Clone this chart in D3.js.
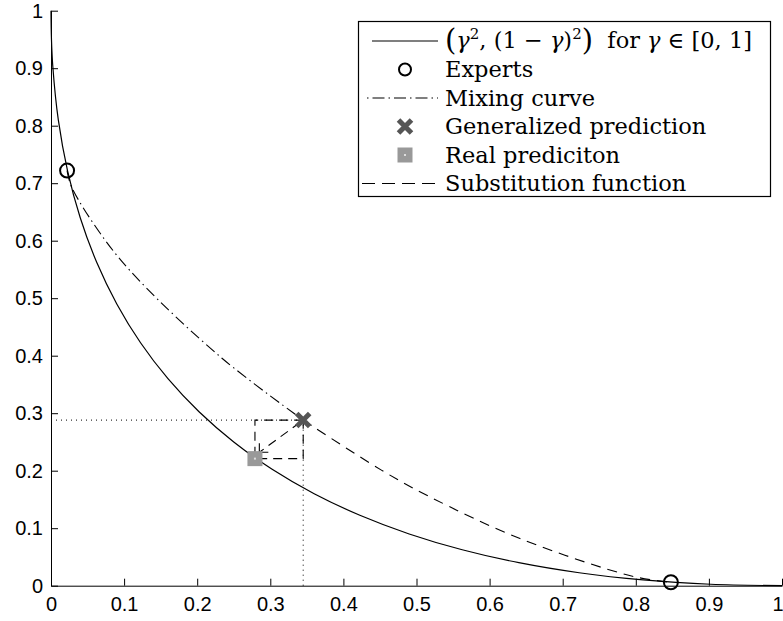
<!DOCTYPE html>
<html><head><meta charset="utf-8">
<script src="https://cdn.jsdelivr.net/npm/d3@7"></script>
<style>body{margin:0;background:#fff}svg{display:block}</style>
</head><body><svg id="c" width="783" height="621"></svg>
<script>
// ---- data ----
const xTicks = [0,0.1,0.2,0.3,0.4,0.5,0.6,0.7,0.8,0.9,1];
const yTicks = [0,0.1,0.2,0.3,0.4,0.5,0.6,0.7,0.8,0.9,1];
const xTickLabels = ["0","0.1","0.2","0.3","0.4","0.5","0.6","0.7","0.8","0.9","1"];
const yTickLabels = ["0","0.1","0.2","0.3","0.4","0.5","0.6","0.7","0.8","0.9","1"];
// curve (gamma^2, (1-gamma)^2)
const curveX = [0,0.000625,0.0025,0.01,0.0225,0.04,0.0625,0.09,0.1225,0.16,0.2025,0.25,0.3025,0.36,0.4225,0.49,0.5625,0.64,0.7225,0.81,0.9025,1];
const curveY = [1,0.950625,0.9025,0.81,0.7225,0.64,0.5625,0.49,0.4225,0.36,0.3025,0.25,0.2025,0.16,0.1225,0.09,0.0625,0.04,0.0225,0.01,0.0025,0];
// mixing curve (dash-dot) from expert 1 to generalized prediction
const mixX = [0.022,0.028,0.074,0.122,0.2335,0.345];
const mixY = [0.722,0.694,0.601,0.529,0.396,0.288];
// substitution (dashed) from generalized prediction to expert 2
const subX = [0.345,0.452,0.5175,0.6416,0.797,0.848];
const subY = [0.288,0.201,0.155,0.082,0.016,0.006];
const expertX = [0.022,0.848];
const expertY = [0.722,0.006];
const genPredX = [0.345], genPredY = [0.288];
const realPredX = [0.279], realPredY = [0.221];
const arrowEndX = [0.285], arrowEndY = [0.232];
const legendLabels = ["Experts","Mixing curve","Generalized prediction","Real prediciton","Substitution function"];

// ---- drawing ----
const svg = d3.select("#c");
const x = d3.scaleLinear().domain([0,1]).range([51,782]);
const y = d3.scaleLinear().domain([0,1]).range([585.7,10.7]);
const line = d3.line().x(d=>x(d[0])).y(d=>y(d[1]));
const smooth = d3.line().x(d=>x(d[0])).y(d=>y(d[1])).curve(d3.curveCatmullRom);
const zip = (a,b)=>a.map((v,i)=>[v,b[i]]);

// axes
const gx = svg.append("g").attr("transform",`translate(0,${y(0)})`)
  .call(d3.axisBottom(x).tickValues(xTicks).tickFormat((d,i)=>xTickLabels[i]).tickSizeInner(-7).tickSizeOuter(0).tickPadding(11));
const gy = svg.append("g").attr("transform",`translate(${x(0)},0)`)
  .call(d3.axisLeft(y).tickValues(yTicks).tickFormat((d,i)=>yTickLabels[i]).tickSizeInner(-7).tickSizeOuter(0).tickPadding(8));
[gx,gy].forEach(g=>{
  g.selectAll("text").attr("font-family","'Liberation Sans', Arial, sans-serif").attr("font-size",20).attr("fill","#000");
  g.selectAll("line,path").attr("stroke","#000").attr("stroke-width",1);
});
gx.selectAll(".tick text").filter((d,i)=>i===xTicks.length-1).attr("text-anchor","end").attr("dx",1);

const G = svg.append("g").attr("fill","none").attr("stroke","#000");
// dotted guide lines
G.append("path").attr("d",line([[0,genPredY[0]],[genPredX[0],genPredY[0]]])).attr("stroke-width",1).attr("stroke-dasharray","1,4");
G.append("path").attr("d",line([[genPredX[0],0],[genPredX[0],genPredY[0]]])).attr("stroke-width",1).attr("stroke-dasharray","1,4");
// main curve
G.append("path").attr("d",smooth(zip(curveX,curveY))).attr("stroke-width",1.2);
// mixing curve
G.append("path").attr("d",smooth(zip(mixX,mixY))).attr("stroke-width",1.1).attr("stroke-dasharray","11,4,1.5,4");
// substitution curve
G.append("path").attr("d",smooth(zip(subX,subY))).attr("stroke-width",1.1).attr("stroke-dasharray","10,7");
// dashed box
const bx0 = realPredX[0], bx1 = genPredX[0], by0 = realPredY[0], by1 = genPredY[0];
G.append("path").attr("d",line([[bx1,by1],[bx0,by1],[bx0,by0],[bx1,by0],[bx1,by1]])).attr("stroke-width",1.1).attr("stroke-dasharray","9,6");
// arrow
const ax = x(arrowEndX[0]), ay = y(arrowEndY[0]);
G.append("path").attr("d",line([[genPredX[0],genPredY[0]],[arrowEndX[0],arrowEndY[0]]])).attr("stroke-width",1.1).attr("stroke-dasharray","9,6").attr("stroke-dashoffset",-4);
G.append("path").attr("d",`M${ax},${ay-9}L${ax},${ay}L${ax+9},${ay}`).attr("stroke-width",1.1);

// markers
svg.selectAll("circle.exp").data(zip(expertX,expertY)).join("circle").attr("class","exp")
  .attr("cx",d=>x(d[0])).attr("cy",d=>y(d[1])).attr("r",7).attr("fill","none").attr("stroke","#000").attr("stroke-width",2);
function drawX(g,cx,cy,s){
  g.append("path").attr("d",`M${cx-s},${cy-s}L${cx+s},${cy+s}M${cx-s},${cy+s}L${cx+s},${cy-s}`)
   .attr("stroke","#555").attr("stroke-width",5).attr("fill","none");
}
function drawSq(g,cx,cy,s){
  g.append("rect").attr("x",cx-s).attr("y",cy-s).attr("width",2*s).attr("height",2*s).attr("fill","#999");
  g.append("rect").attr("x",cx-1).attr("y",cy-1).attr("width",2).attr("height",2).attr("fill","#ddd");
}
drawSq(svg, x(realPredX[0]), y(realPredY[0]), 7.5);
drawX(svg, x(genPredX[0]), y(genPredY[0]), 6.5);

// legend
const L = svg.append("g");
L.append("rect").attr("x",358.5).attr("y",21.5).attr("width",412).attr("height",175).attr("fill","#fff").attr("stroke","#000").attr("stroke-width",1.2);
const rowY = i => 41 + i*28.5;
const tx = 445, mx = 405, lx0 = 372, lx1 = 438;
const ff = "'DejaVu Serif', serif";
const fs = 22.5;
// row 0 line + math text
L.append("line").attr("x1",lx0).attr("x2",lx1).attr("y1",rowY(0)).attr("y2",rowY(0)).attr("stroke","#000").attr("stroke-width",1.1);
const t0 = L.append("text").attr("x",tx).attr("y",rowY(0)+7).attr("font-family",ff).attr("font-size",fs).attr("fill","#000");
t0.append("tspan").attr("font-size",29).attr("dy",2).text("(");
t0.append("tspan").attr("dy",-2).attr("font-style","italic").text("γ");
t0.append("tspan").attr("font-size",15).attr("dy",-9).text("2");
t0.append("tspan").attr("dy",9).text(", (1 − ");
t0.append("tspan").attr("font-style","italic").text("γ");
t0.append("tspan").text(")");
t0.append("tspan").attr("font-size",15).attr("dy",-9).text("2");
t0.append("tspan").attr("font-size",29).attr("dy",11).text(")");
t0.append("tspan").attr("dy",-2).text("\u00a0\u00a0for ");
t0.append("tspan").attr("font-style","italic").text("γ");
t0.append("tspan").text(" ∈ [0, 1]");
// other rows
legendLabels.forEach((lab,i)=>{
  L.append("text").attr("x",tx).attr("y",rowY(i+1)+7.5).attr("font-family",ff).attr("font-size",fs).attr("fill","#000").text(lab);
});
L.append("circle").attr("cx",mx).attr("cy",rowY(1)).attr("r",6).attr("fill","none").attr("stroke","#000").attr("stroke-width",2);
L.append("line").attr("x1",lx0-5).attr("x2",lx1).attr("y1",rowY(2)).attr("y2",rowY(2)).attr("stroke","#000").attr("stroke-width",1.1).attr("stroke-dasharray","1.5,4,12,4");
drawX(L, mx, rowY(3), 6.5);
drawSq(L, mx, rowY(4), 7.5);
L.append("line").attr("x1",lx0-10).attr("x2",lx1+2).attr("y1",rowY(5)).attr("y2",rowY(5)).attr("stroke","#000").attr("stroke-width",1.1).attr("stroke-dasharray","13,7");
</script></body></html>
